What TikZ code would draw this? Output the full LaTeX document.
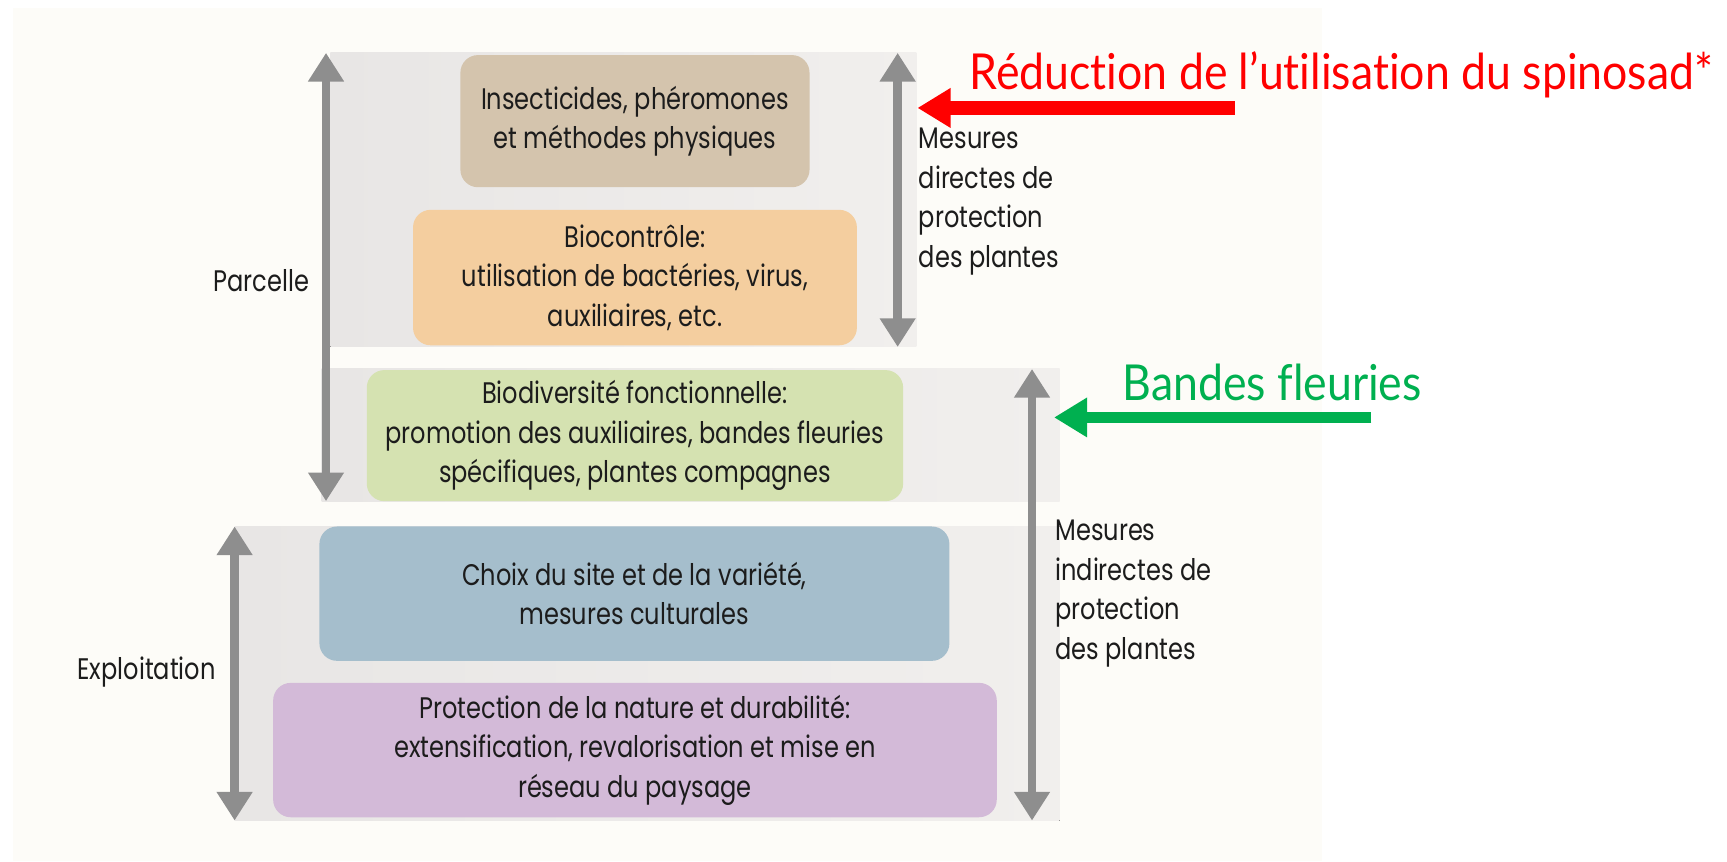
\documentclass[tikz,border=0pt]{standalone}
\usepackage{fontspec}
\setmainfont[FakeStretch=0.81]{Poppins}
\newfontfamily\gillfont[FakeStretch=0.9, Ligatures={NoCommon,NoRare}]{Lato}
\usetikzlibrary{arrows.meta}
\definecolor{bgcream}{HTML}{FDFCF8}
\definecolor{panelL}{HTML}{E8E6E5}
\definecolor{panelR}{HTML}{F1EFED}
\definecolor{brownbox}{HTML}{D4C4AD}
\definecolor{orangebox}{HTML}{F4CE9F}
\definecolor{greenbox}{HTML}{D5E2B1}
\definecolor{bluebox}{HTML}{A5BECC}
\definecolor{purplebox}{HTML}{D3BAD8}
\definecolor{arrowgray}{HTML}{8E8E8E}
\definecolor{txt}{HTML}{1C1C1C}
\definecolor{redc}{HTML}{FF0000}
\definecolor{greenc}{HTML}{00B050}
\newcommand\bxfont{\fontsize{27}{36}\selectfont}
\begin{document}
\begin{tikzpicture}[x=1pt,y=-1pt,
  box/.style={rounded corners=16pt, inner sep=0pt, align=center, text=txt, font=\bxfont},
  lbl/.style={inner sep=0pt, align=left, text=txt, font=\bxfont},
  garrow/.style={draw=arrowgray, line width=8pt,
     {Triangle[width=31pt,length=26pt]}-{Triangle[width=31pt,length=26pt]}},
  hiarrow/.style={-{Triangle[width=34pt,length=30pt]}},
  hitext/.style={anchor=base west, inner sep=0pt, font=\gillfont\fontsize{45}{50}\selectfont}]
\useasboundingbox (0,0) rectangle (1568,782);
\fill[white] (0,0) rectangle (1568,782);
\fill[bgcream] (12,7) rectangle (1200,782);
% grey panels
\fill[left color=panelL, right color=panelR] (300,48) rectangle (832,315);
\fill[left color=panelL, right color=panelR] (292,335) rectangle (962,455);
\fill[left color=panelL, right color=panelR] (213,478) rectangle (962,745);
% boxes
\node[box, fill=brownbox, minimum width=317pt, minimum height=120pt] (b1) at (576.5,110)
  {Insecticides, phéromones\\et méthodes physiques};
\node[box, fill=orangebox, minimum width=403pt, minimum height=123pt] (b2) at (576.5,252)
  {Biocontrôle:\\utilisation de bactéries, virus,\\auxiliaires, etc.};
\node[box, fill=greenbox, minimum width=487pt, minimum height=119pt] (b3) at (576.5,395.5)
  {Biodiversité fonctionnelle:\\promotion des auxiliaires, bandes fleuries\\spécifiques, plantes compagnes};
\node[box, fill=bluebox, minimum width=572pt, minimum height=122pt] (b4) at (576,539)
  {Choix du site et de la variété,\\mesures culturales};
\node[box, fill=purplebox, minimum width=657pt, minimum height=122pt] (b5) at (576.5,681)
  {Protection de la nature et durabilité:\\extensification, revalorisation et mise en\\réseau du paysage};
% grey double arrows
\coordinate (pT) at (296,48);  \coordinate (pB) at (296,455);
\coordinate (eT) at (213,478); \coordinate (eB) at (213,745);
\coordinate (dT) at (815,48);  \coordinate (dB) at (815,315);
\coordinate (iT) at (937,335); \coordinate (iB) at (937,745);
\draw[garrow] (pT) -- (pB);
\draw[garrow] (eT) -- (eB);
\draw[garrow] (dT) -- (dB);
\draw[garrow] (iT) -- (iB);
% side labels
\node[lbl, anchor=east] (parc) at (281,255) {Parcelle};
\node[lbl, anchor=east] (expl) at (196,610) {Exploitation};
\node[lbl, anchor=west] (dir) at (834,183) {Mesures\\directes de\\protection\\des plantes};
\node[lbl, anchor=west] (ind) at (958,539) {Mesures\\indirectes de\\protection\\des plantes};
% highlighted annotations
\node[hitext, text=redc] (rt) at (880,81) {Réduction de l’utilisation du spinosad*};
\coordinate (rS) at (1121,98); \coordinate (rE) at (833,98);
\draw[hiarrow, line width=12pt, draw=redc] (rS) -- (rE);
\node[hitext, text=greenc] (gt) at (1019,364) {Bandes fleuries};
\coordinate (gS) at (1245,379); \coordinate (gE) at (957,379);
\draw[hiarrow, line width=10pt, draw=greenc] (gS) -- (gE);
\end{tikzpicture}
\end{document}
